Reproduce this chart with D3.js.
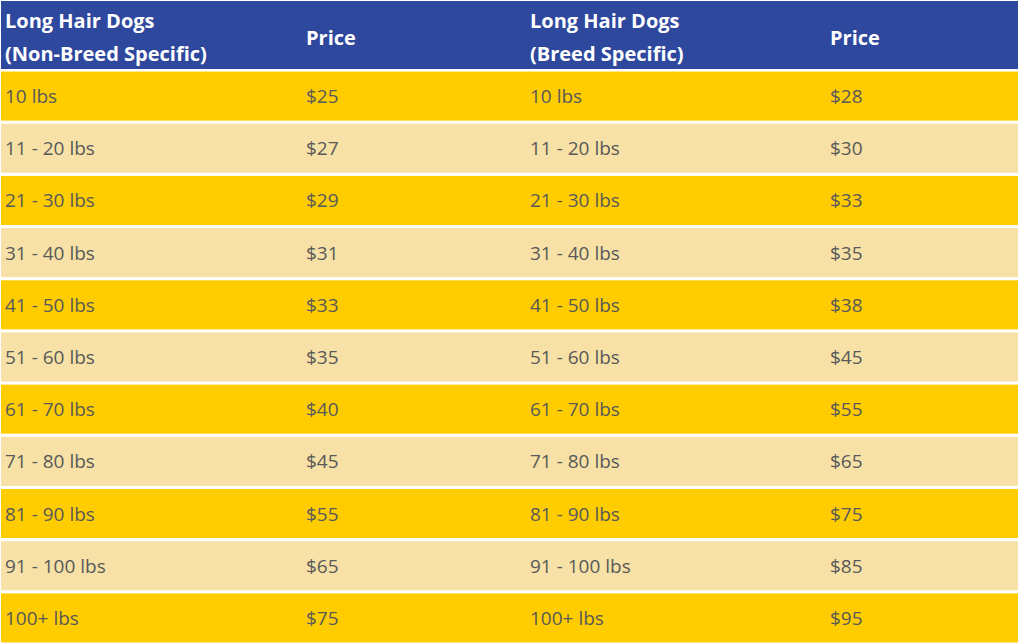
<!DOCTYPE html>
<html><head><meta charset="utf-8">
<script src="https://cdn.jsdelivr.net/npm/d3@7"></script>
<style>body{margin:0;background:#fff}</style></head>
<body><svg id="c" width="1020" height="643"></svg>
<script>
const headers = [["Long Hair Dogs","(Non-Breed Specific)"],["Price"],["Long Hair Dogs","(Breed Specific)"],["Price"]];
const weights = ["10 lbs","11 - 20 lbs","21 - 30 lbs","31 - 40 lbs","41 - 50 lbs","51 - 60 lbs","61 - 70 lbs","71 - 80 lbs","81 - 90 lbs","91 - 100 lbs","100+ lbs"];
const nonBreedPrice = [25,27,29,31,33,35,40,45,55,65,75];
const breedPrice = [28,30,33,35,38,45,55,65,75,85,95];

const svg = d3.select("#c");
const font = "'Open Sans', Calibri, sans-serif";
const colX = d3.scaleOrdinal().domain([0,1,2,3]).range([5,306,530,830]);
const rowY = d3.scaleBand().domain(d3.range(weights.length)).range([70,644]).paddingInner(0.06).paddingOuter(0.03);

svg.append("rect").attr("x",1).attr("y",1).attr("width",1017).attr("height",68).attr("fill","#2E489D");
headers.forEach((h,i)=>{
  const t = svg.append("text").attr("fill","#fff").attr("font-family",font).attr("font-weight","bold").attr("font-size",20);
  if(h.length===2){
    t.append("tspan").attr("x",colX(i)).attr("y",28).text(h[0]);
    t.append("tspan").attr("x",colX(i)).attr("y",61).text(h[1]);
  } else t.append("tspan").attr("x",colX(i)).attr("y",45).text(h[0]);
});
const rows = weights.map((w,i)=>[w,"$"+nonBreedPrice[i],w,"$"+breedPrice[i]]);
const g = svg.selectAll("g.row").data(rows).join("g").attr("class","row");
g.append("rect").attr("x",1).attr("width",1017).attr("y",(d,i)=>rowY(i)).attr("height",rowY.bandwidth())
 .attr("fill",(d,i)=>i%2===0?"#FFCC00":"#F7E1A6");
g.each(function(d,i){
  d3.select(this).selectAll("text").data(d).join("text")
   .attr("x",(v,j)=>colX(j)).attr("y",rowY(i)+rowY.bandwidth()/2+7)
   .attr("fill","#595959").attr("font-family",font).attr("font-size",19).text(v=>v);
});
</script></body></html>
